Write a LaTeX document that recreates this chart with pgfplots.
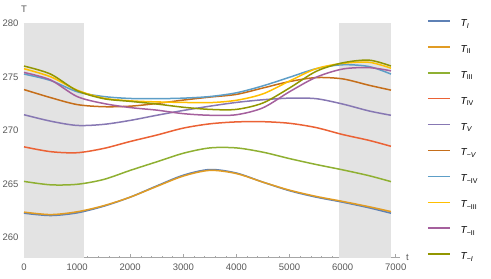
\documentclass[border=0pt]{standalone}
\usepackage{fontspec}
\setmainfont{Liberation Sans}
\usepackage{pgfplots}
\pgfplotsset{compat=1.18}
\definecolor{c1}{HTML}{5E81B5}
\definecolor{c2}{HTML}{E19C24}
\definecolor{c3}{HTML}{8FB032}
\definecolor{c4}{HTML}{EB6235}
\definecolor{c5}{HTML}{8778B3}
\definecolor{c6}{HTML}{C56E1A}
\definecolor{c7}{HTML}{5D9EC7}
\definecolor{c8}{HTML}{FFBF00}
\definecolor{c9}{HTML}{A5609D}
\definecolor{c10}{HTML}{929600}
\definecolor{shade}{HTML}{E3E3E3}
\begin{document}
\begin{tikzpicture}
\begin{axis}[
  scale only axis, width=376pt, height=235pt,
  xmin=0, xmax=7080, ymin=258.09, ymax=280.05,
  axis lines*=left,
  axis line style={black!35, line width=0.6pt},
  xtick={0,1000,...,7000}, ytick={260,265,...,280},
  minor x tick num=4, minor y tick num=4,
  tick align=inside,
  major tick length=4pt, minor tick length=2pt,
  tick style={black!35, line width=0.5pt},
  scaled x ticks=false, scaled y ticks=false,
  /pgf/number format/assume math mode=true,
  /pgf/number format/1000 sep={},
  ticklabel style={font=\fontsize{9.5}{11}\selectfont, text=black!65},
  xticklabel style={yshift=-3pt},
  yticklabel style={xshift=-2pt},
  xlabel={t}, ylabel={T},
  xlabel style={at={(axis description cs:1,0)}, anchor=west, xshift=6pt, inner sep=0pt, font=\fontsize{9.5}{11}\selectfont, text=black!65},
  ylabel style={at={(axis description cs:0,1)}, rotate=-90, anchor=south, yshift=7pt, font=\fontsize{9.5}{11}\selectfont, text=black!65},
  legend cell align=left,
  legend image code/.code={\draw[#1] (0pt,3.5pt) -- (22pt,3.5pt);},
  legend style={at={(axis description cs:1.0718,0.4964)}, anchor=west, draw=none, fill=none, inner sep=0pt,
    font=\fontsize{10}{12}\selectfont, row sep=13.9pt, column sep=10pt,
    nodes={inner sep=0pt, text height=8pt, text depth=4pt}},
]
\addplot[fill=shade, draw=none, forget plot, sharp plot] coordinates {(0,258.09) (0,280.05) (1130,280.05) (1130,258.09)} -- cycle;
\addplot[fill=shade, draw=none, forget plot, sharp plot] coordinates {(5930,258.09) (5930,280.05) (6910,280.05) (6910,258.09)} -- cycle;

\pgfplotsset{every axis plot/.append style={line width=1.5pt, smooth}}
\addplot[c1] coordinates {(0,262.25)(500,262.03)(1000,262.28)(1500,262.9)(2000,263.75)(2500,264.8)(3000,265.8)(3500,266.33)(4000,266.0)(4500,265.15)(5000,264.35)(5500,263.75)(6000,263.28)(6500,262.75)(6910,262.25)};
\addlegendentry{{\itshape T}\textsubscript{\itshape I}}
\addplot[c2] coordinates {(0,262.35)(500,262.12)(1000,262.38)(1500,262.95)(2000,263.75)(2500,264.75)(3000,265.72)(3500,266.25)(4000,265.95)(4500,265.15)(5000,264.4)(5500,263.82)(6000,263.35)(6500,262.85)(6910,262.4)};
\addlegendentry{{\itshape T}\textsubscript{II}}
\addplot[c3] coordinates {(0,265.22)(500,264.9)(1000,264.95)(1500,265.4)(2000,266.25)(2500,267.05)(3000,267.85)(3500,268.35)(4000,268.35)(4500,267.95)(5000,267.35)(5500,266.8)(6000,266.3)(6500,265.75)(6910,265.2)};
\addlegendentry{{\itshape T}\textsubscript{III}}
\addplot[c4] coordinates {(0,268.45)(500,268.0)(1000,267.9)(1500,268.3)(2000,268.95)(2500,269.55)(3000,270.2)(3500,270.6)(4000,270.78)(4500,270.8)(5000,270.65)(5500,270.25)(6000,269.6)(6500,269.05)(6910,268.5)};
\addlegendentry{{\itshape T}\textsubscript{IV}}
\addplot[c5] coordinates {(0,271.45)(500,270.85)(1000,270.45)(1500,270.55)(2000,270.92)(2500,271.4)(3000,271.85)(3500,272.25)(4000,272.6)(4500,272.85)(5000,273.0)(5500,272.95)(6000,272.45)(6500,271.8)(6910,271.4)};
\addlegendentry{{\itshape T}\textsubscript{\itshape V}}
\addplot[c6] coordinates {(0,273.8)(500,273.05)(1000,272.4)(1500,272.2)(2000,272.25)(2500,272.5)(3000,272.82)(3500,273.1)(4000,273.35)(4500,273.95)(5000,274.55)(5500,274.92)(6000,274.8)(6500,274.2)(6910,273.75)};
\addlegendentry{{\itshape T}\textsubscript{−\itshape V}}
\addplot[c7] coordinates {(0,275.25)(500,274.65)(1000,273.6)(1500,273.15)(2000,272.97)(2500,272.95)(3000,273.0)(3500,273.15)(4000,273.5)(4500,274.15)(5000,274.95)(5500,275.75)(6000,276.12)(6500,275.95)(6910,275.25)};
\addlegendentry{{\itshape T}\textsubscript{−IV}}
\addplot[c8] coordinates {(0,275.75)(500,275.0)(1000,273.75)(1500,273.0)(2000,272.75)(2500,272.65)(3000,272.6)(3500,272.58)(4000,272.8)(4500,273.4)(5000,274.6)(5500,275.75)(6000,276.25)(6500,276.35)(6910,275.8)};
\addlegendentry{{\itshape T}\textsubscript{−III}}
\addplot[c9] coordinates {(0,275.4)(500,274.7)(1000,273.15)(1500,272.5)(2000,272.12)(2500,271.88)(3000,271.55)(3500,271.4)(4000,271.45)(4500,272.1)(5000,273.6)(5500,274.95)(6000,275.72)(6500,275.85)(6910,275.55)};
\addlegendentry{{\itshape T}\textsubscript{−II}}
\addplot[c10] coordinates {(0,276.0)(500,275.25)(1000,273.7)(1500,272.95)(2000,272.7)(2500,272.45)(3000,272.15)(3500,271.95)(4000,271.95)(4500,272.55)(5000,273.95)(5500,275.5)(6000,276.3)(6500,276.55)(6910,276.0)};
\addlegendentry{{\itshape T}\textsubscript{−\itshape I}}
\end{axis}
\pgfresetboundingbox
\path (-24pt,-21.3pt) rectangle (467pt,257.7pt);
\end{tikzpicture}
\end{document}
